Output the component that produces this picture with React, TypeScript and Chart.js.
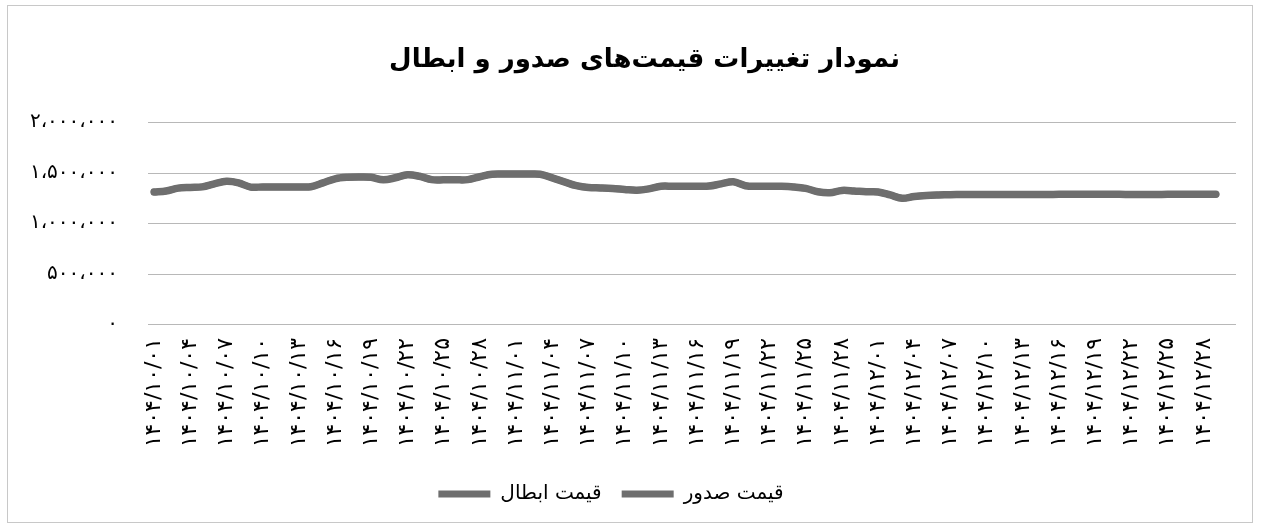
import React, { useEffect, useRef } from "react";
import { Chart, registerables } from "chart.js";

Chart.register(...registerables);

const titleText = "نمودار تغییرات قیمت‌های صدور و ابطال";
const seriesNames = ["قیمت صدور", "قیمت ابطال"];

const days30 = ["۰۱","۰۲","۰۳","۰۴","۰۵","۰۶","۰۷","۰۸","۰۹","۱۰","۱۱","۱۲","۱۳","۱۴","۱۵","۱۶","۱۷","۱۸","۱۹","۲۰","۲۱","۲۲","۲۳","۲۴","۲۵","۲۶","۲۷","۲۸","۲۹","۳۰"];
const days29 = ["۰۱","۰۲","۰۳","۰۴","۰۵","۰۶","۰۷","۰۸","۰۹","۱۰","۱۱","۱۲","۱۳","۱۴","۱۵","۱۶","۱۷","۱۸","۱۹","۲۰","۲۱","۲۲","۲۳","۲۴","۲۵","۲۶","۲۷","۲۸","۲۹"];
const months = [
  { prefix: "۱۴۰۴/۱۰/", days: days30 },
  { prefix: "۱۴۰۴/۱۱/", days: days30 },
  { prefix: "۱۴۰۴/۱۲/", days: days29 },
];
const categories: string[] = months.flatMap((m) => m.days.map((d) => m.prefix + d));

const issuePrice = [
  1310000, 1320000, 1348000, 1355000, 1360000, 1390000, 1415000, 1400000, 1358000, 1360000,
  1360000, 1360000, 1360000, 1362000, 1400000, 1440000, 1455000, 1458000, 1455000, 1430000,
  1450000, 1480000, 1465000, 1432000, 1430000, 1430000, 1432000, 1460000, 1485000, 1487000,
  1487000, 1487000, 1485000, 1450000, 1410000, 1372000, 1353000, 1350000, 1345000, 1335000,
  1327000, 1340000, 1366000, 1366000, 1366000, 1366000, 1368000, 1390000, 1410000, 1372000,
  1366000, 1366000, 1366000, 1360000, 1345000, 1312000, 1302000, 1325000, 1320000, 1312000,
  1310000, 1280000, 1247000, 1265000, 1275000, 1280000, 1283000, 1284000, 1284000, 1285000,
  1285000, 1285000, 1285000, 1285000, 1285000, 1286000, 1286000, 1286000, 1286000, 1286000,
  1286000, 1285000, 1285000, 1285000, 1286000, 1287000, 1287000, 1288000, 1288000,
];
const redemptionPrice = [
  1305000, 1315000, 1343000, 1350000, 1355000, 1385000, 1410000, 1395000, 1353000, 1355000,
  1355000, 1355000, 1355000, 1357000, 1395000, 1435000, 1450000, 1453000, 1450000, 1425000,
  1445000, 1475000, 1460000, 1427000, 1425000, 1425000, 1427000, 1455000, 1480000, 1482000,
  1482000, 1482000, 1480000, 1445000, 1405000, 1367000, 1348000, 1345000, 1340000, 1330000,
  1322000, 1335000, 1361000, 1361000, 1361000, 1361000, 1363000, 1385000, 1405000, 1367000,
  1361000, 1361000, 1361000, 1355000, 1340000, 1307000, 1297000, 1320000, 1315000, 1307000,
  1305000, 1275000, 1242000, 1260000, 1270000, 1275000, 1278000, 1279000, 1279000, 1280000,
  1280000, 1280000, 1280000, 1280000, 1280000, 1281000, 1281000, 1281000, 1281000, 1281000,
  1281000, 1280000, 1280000, 1280000, 1281000, 1282000, 1282000, 1283000, 1283000,
];

const yTickLabels: Record<number, string> = {
  0: "۰",
  500000: "۵۰۰،۰۰۰",
  1000000: "۱،۰۰۰،۰۰۰",
  1500000: "۱،۵۰۰،۰۰۰",
  2000000: "۲،۰۰۰،۰۰۰",
};

const FONT = "'DejaVu Sans', 'Noto Sans', sans-serif";
const LINE = "#6e6e6e";
const GRID = "#b8b8b8";
const GRID_EXTEND = 14;

// Horizontal gridlines drawn from the y scale's ticks, reaching slightly past the plot area.
const gridPlugin = {
  id: "extendedGrid",
  beforeDatasetsDraw(chart: any) {
    const { ctx, chartArea, scales } = chart;
    const y = scales.y;
    ctx.save();
    ctx.strokeStyle = GRID;
    ctx.lineWidth = 1;
    y.ticks.forEach((t: any) => {
      const py = Math.round(y.getPixelForValue(t.value)) + 0.5;
      ctx.beginPath();
      ctx.moveTo(chartArea.left, py);
      ctx.lineTo(chartArea.right + GRID_EXTEND, py);
      ctx.stroke();
    });
    ctx.restore();
  },
};

// Chart title, centred over the framed chart (drawn in the top layout padding).
const titlePlugin = {
  id: "frameTitle",
  afterDraw(chart: any) {
    const { ctx } = chart;
    ctx.save();
    ctx.font = `bold 26px ${FONT}`;
    ctx.fillStyle = "#000";
    ctx.textAlign = "center";
    ctx.textBaseline = "middle";
    ctx.fillText(titleText, chart.width / 2 + 14, 60);
    ctx.restore();
  },
};

export default function App() {
  const ref = useRef<HTMLCanvasElement | null>(null);
  useEffect(() => {
    document.body.style.margin = "0";
    const ctx = ref.current!;
    const mk = (label: string, data: number[]) => ({
      label,
      data,
      borderColor: LINE,
      backgroundColor: LINE,
      borderWidth: 7,
      pointRadius: 0,
      tension: 0.35,
      borderCapStyle: "round" as const,
      borderJoinStyle: "round" as const,
    });
    const chart = new Chart(ctx, {
      type: "line",
      data: {
        labels: categories,
        datasets: [mk(seriesNames[0], issuePrice), mk(seriesNames[1], redemptionPrice)],
      },
      plugins: [gridPlugin, titlePlugin],
      options: {
        animation: false,
        responsive: false,
        maintainAspectRatio: false,
        layout: { padding: { left: 0, right: 39, top: 122, bottom: 12 } },
        plugins: {
          title: { display: false },
          legend: {
            position: "bottom",
            reverse: true,
            labels: {
              usePointStyle: true,
              pointStyle: "line",
              pointStyleWidth: 52,
              color: "#000",
              font: { family: FONT, size: 20 },
              padding: 20,
            },
          },
          tooltip: { enabled: false },
        },
        scales: {
          x: {
            offset: true,
            grid: { display: false },
            border: { display: false },
            ticks: {
              autoSkip: false,
              maxRotation: 90,
              minRotation: 90,
              padding: 6,
              color: "#000",
              font: { family: FONT, size: 22 },
              callback: (_v: any, i: number) => (i % 3 === 0 ? categories[i] : null),
            },
            afterFit: (s: any) => {
              s.height = 140;
            },
          },
          y: {
            min: 0,
            max: 2000000,
            grid: { display: false, drawTicks: false },
            border: { display: false },
            ticks: {
              stepSize: 500000,
              padding: 30,
              color: "#000",
              font: { family: FONT, size: 20 },
              callback: (v: any) => yTickLabels[Number(v)] ?? "",
            },
            afterFit: (s: any) => {
              s.width = 148;
            },
          },
        },
      },
    });
    return () => chart.destroy();
  }, []);
  return (
    <div style={{ position: "absolute", left: 0, top: 0, width: 1261, height: 526, background: "#fff" }}>
      <div
        style={{
          position: "absolute",
          left: 7,
          top: 5,
          width: 1246,
          height: 518,
          border: "1px solid #c8c8c8",
          boxSizing: "border-box",
        }}
      />
      <canvas ref={ref} width={1261} height={526} style={{ position: "absolute", left: 0, top: 0 }} />
    </div>
  );
}
